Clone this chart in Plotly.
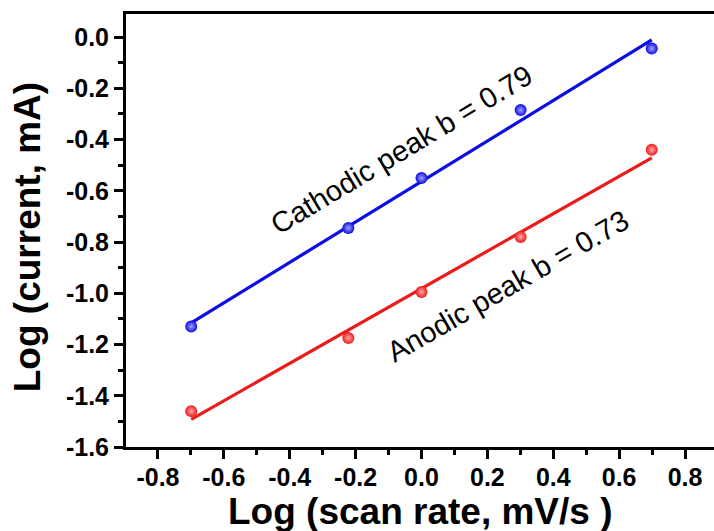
import numpy as np
import plotly.graph_objects as go

# log10 of scan rates 0.2, 0.6, 1, 2, 5 mV/s
log_scan_rate = [-0.699, -0.222, 0.0, 0.301, 0.699]
log_cathodic = [-1.13, -0.745, -0.55, -0.285, -0.045]
log_anodic = [-1.46, -1.175, -0.995, -0.78, -0.44]
b_cathodic = 0.79
b_anodic = 0.73

x_ticks = [-0.8, -0.6, -0.4, -0.2, 0.0, 0.2, 0.4, 0.6, 0.8]
x_tick_text = ["-0.8", "-0.6", "-0.4", "-0.2", "0.0", "0.2", "0.4", "0.6", "0.8"]
y_ticks = [-1.6, -1.4, -1.2, -1.0, -0.8, -0.6, -0.4, -0.2, 0.0]
y_tick_text = ["-1.6", "-1.4", "-1.2", "-1.0", "-0.8", "-0.6", "-0.4", "-0.2", "0.0"]

BLUE = "#0c0ce4"
RED = "#ec1a1a"
FONT = "Liberation Sans, Arial, sans-serif"


def fit_line(x, y, slope):
    """Straight line with the given slope through the centroid of the points."""
    x = np.asarray(x)
    y = np.asarray(y)
    intercept = y.mean() - slope * x.mean()
    xs = np.array([x.min(), x.max()])
    return xs, intercept + slope * xs


fig = go.Figure()

for yvals, b, color, hi in [(log_cathodic, b_cathodic, BLUE, "#a0a0ff"),
                            (log_anodic, b_anodic, RED, "#ffa8a8")]:
    fx, fy = fit_line(log_scan_rate, yvals, b)
    fig.add_trace(go.Scatter(x=fx, y=fy, mode="lines",
                             line=dict(color=color, width=3.2), showlegend=False))
    fig.add_trace(go.Scatter(x=log_scan_rate, y=yvals, mode="markers",
                             marker=dict(size=12, color=color,
                                         gradient=dict(type="radial", color=hi),
                                         line=dict(width=0)),
                             showlegend=False))

fig.add_annotation(x=-0.062, y=-0.44, text="Cathodic peak b = 0.79", showarrow=False,
                   textangle=-31, font=dict(family=FONT, size=29, color="black"))
fig.add_annotation(x=0.262, y=-0.97, text="Anodic peak b = 0.73", showarrow=False,
                   textangle=-30, font=dict(family=FONT, size=29, color="black"))

# axis titles
title_font = dict(family=FONT, size=37, color="black", weight="bold")
fig.add_annotation(xref="paper", yref="paper", x=0.5, y=-0.149, yanchor="middle",
                   text="Log (scan rate, mV/s )", showarrow=False, font=title_font)
fig.add_annotation(xref="paper", yref="paper", x=-0.167, y=0.484, xanchor="center",
                   text="Log (current, mA)", textangle=-90, showarrow=False, font=title_font)

axis_common = dict(
    showgrid=False, zeroline=False,
    showline=True, linecolor="black", linewidth=3,
    ticks="outside", ticklen=9, tickwidth=2.5, tickcolor="black",
    tickfont=dict(family=FONT, size=25, color="black", weight="bold"),
)

fig.update_xaxes(
    **axis_common,
    range=[-0.897, 0.888], mirror=True,
    tickmode="array", tickvals=x_ticks, ticktext=x_tick_text,
    ticklabelstandoff=-3,
    minor=dict(ticks="outside", ticklen=5, tickwidth=2.5, tickcolor="black", dtick=0.1, tick0=-0.9),
)
fig.update_yaxes(
    **axis_common,
    range=[-1.6, 0.09],
    tickmode="array", tickvals=y_ticks, ticktext=y_tick_text,
    minor=dict(ticks="outside", ticklen=5, tickwidth=2.5, tickcolor="black", dtick=0.1, tick0=-1.5),
)

fig.update_layout(
    width=714, height=531,
    margin=dict(l=126, r=0, t=14, b=84),
    plot_bgcolor="white", paper_bgcolor="white",
)

fig.write_html("out.html")
